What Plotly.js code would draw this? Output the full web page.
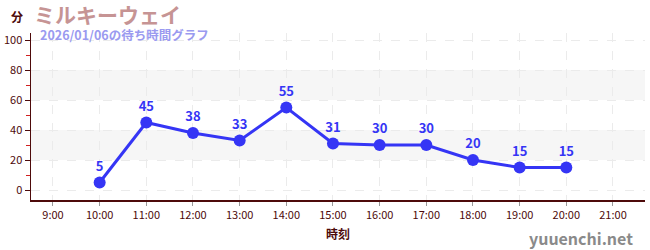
<!DOCTYPE html>
<html><head><meta charset="utf-8">
<script src="https://cdn.plot.ly/plotly-3.0.1.min.js"></script>
<style>html,body{margin:0;padding:0;background:#fff}#c{width:650px;height:250px}</style>
</head><body><div id="c"></div>
<script>
const hours = [10, 11, 12, 13, 14, 15, 16, 17, 18, 19, 20];
const waits = [5, 45, 38, 33, 55, 31, 30, 30, 20, 15, 15];
const tickHours = [9, 10, 11, 12, 13, 14, 15, 16, 17, 18, 19, 20, 21];
const tickLabels = ["9:00","10:00","11:00","12:00","13:00","14:00","15:00","16:00","17:00","18:00","19:00","20:00","21:00"];
const yTicks = [0, 20, 40, 60, 80, 100];
const bands = [[20, 40], [60, 80]];
const titleText = "ミルキーウェイ";
const subtitleText = "2026/01/06の待ち時間グラフ";

const F = "'Noto Sans CJK JP', 'Noto Sans', sans-serif";
const maroon = "#4d0a0a";
const blue = "#3535f5";

const trace = {
  x: hours, y: waits, type: "scatter", mode: "lines+markers+text",
  text: waits.map(String), textposition: "top center",
  textfont: {family: F, size: 13, color: blue, weight: "bold"},
  line: {color: blue, width: 3},
  marker: {color: blue, size: 12},
  cliponaxis: false, hoverinfo: "skip"
};

const layout = {
  width: 650, height: 250,
  margin: {l: 31, r: 5, t: 33, b: 50},
  paper_bgcolor: "#fff", plot_bgcolor: "#fff",
  showlegend: false,
  font: {family: F, color: maroon},
  xaxis: {
    range: [8.529, 21.686], tickvals: tickHours, ticktext: tickLabels,
    tickfont: {family: F, size: 11, color: maroon},
    showline: true, linecolor: maroon, linewidth: 1.5,
    ticks: "outside", ticklen: 4, tickcolor: "#999",
    showgrid: true, gridcolor: "#ebebeb", griddash: "dash", gridwidth: 1,
    zeroline: false,
    title: {text: "時刻", font: {family: F, size: 12, color: maroon, weight: "bold"}, standoff: 10}
  },
  yaxis: {
    range: [-6.67, 104.67], tickvals: yTicks,
    tickfont: {family: F, size: 11, color: maroon},
    showline: true, linecolor: maroon, linewidth: 1.5,
    ticks: "outside", ticklen: 5, tickcolor: maroon,
    minor: {ticks: "outside", ticklen: 4, tickcolor: "#d02020", dtick: 10, tick0: 0, showgrid: false},
    showgrid: true, gridcolor: "#ebebeb", griddash: "dash", gridwidth: 1,
    zeroline: false
  },
  shapes: bands.map(b => ({type: "rect", xref: "paper", yref: "y", x0: 0, x1: 1, y0: b[0], y1: b[1],
    fillcolor: "#f6f6f6", line: {width: 0}, layer: "below"})),
  annotations: [
    {text: "分", xref: "paper", yref: "paper", x: -0.01, y: 1, xanchor: "right", yanchor: "bottom",
     yshift: 6, showarrow: false, font: {family: F, size: 12, color: maroon, weight: "bold"}},
    {text: titleText, xref: "paper", yref: "paper", x: 0, y: 1, xanchor: "left", yanchor: "bottom",
     xshift: 1, yshift: 2, showarrow: false, font: {family: F, size: 21, color: "#c69494", weight: "bold"}},
    {text: subtitleText, xref: "paper", yref: "paper", x: 0, y: 1, xanchor: "left", yanchor: "top",
     xshift: 7, yshift: 10, showarrow: false, font: {family: F, size: 12.5, color: "#9a9af0", weight: "bold"}},
    {text: "yuuenchi.net", xref: "paper", yref: "paper", x: 1, y: 0, xanchor: "right", yanchor: "top",
     xshift: -10, yshift: -24, showarrow: false, font: {family: F, size: 16, color: "#8a8a8a", weight: "bold"}}
  ]
};

Plotly.newPlot("c", [trace], layout, {displayModeBar: false, staticPlot: true});
</script></body></html>
